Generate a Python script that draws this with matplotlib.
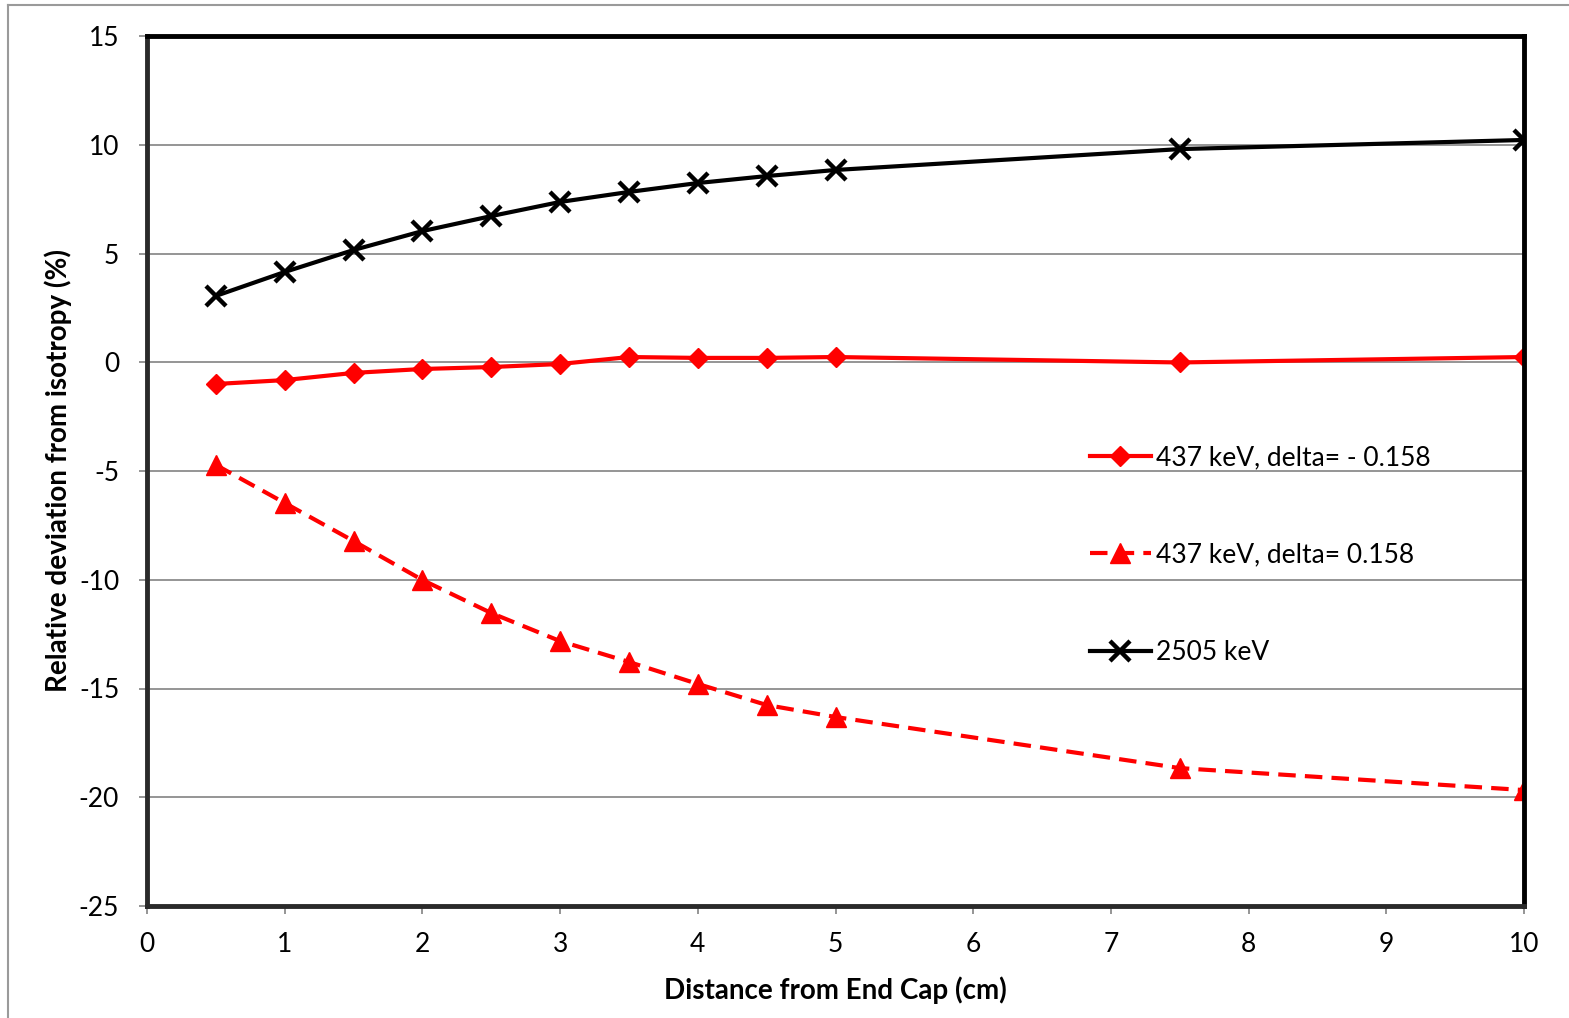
import matplotlib
matplotlib.use("Agg")
import matplotlib.pyplot as plt
from matplotlib.lines import Line2D

plt.rcParams["font.family"] = ["Lato", "DejaVu Sans"]
plt.rcParams["axes.unicode_minus"] = False

# distance from end cap (cm)
dist = [0.5, 1, 1.5, 2, 2.5, 3, 3.5, 4, 4.5, 5, 7.5, 10]
# relative deviation from isotropy (%)
dev_437_neg = [-1.0, -0.82, -0.49, -0.31, -0.22, -0.08, 0.24, 0.2, 0.2, 0.24, -0.01, 0.24]
dev_437_pos = [-4.72, -6.47, -8.22, -10.01, -11.53, -12.82, -13.78, -14.79, -15.76, -16.31, -18.66, -19.67]
dev_2505 = [3.05, 4.15, 5.16, 6.03, 6.72, 7.37, 7.83, 8.24, 8.56, 8.84, 9.8, 10.22]

labels = ["437 keV, delta= - 0.158", "437 keV, delta= 0.158", "2505 keV"]
x_ticks = list(range(0, 11))
y_ticks = list(range(-25, 20, 5))

W, H = 1569, 1018
fig = plt.figure(figsize=(W / 100, H / 100), dpi=100)
ax = fig.add_axes([147 / W, 1 - 906 / H, (1524 - 147) / W, (906 - 36) / H])

ax.plot(dist, dev_437_neg, color="red", lw=3, marker="D", ms=10, label=labels[0])
ax.plot(dist, dev_437_pos, color="red", lw=3, ls=(0, (4.2, 2.2)), marker="^", ms=14,
        label=labels[1])
ax.plot(dist, dev_2505, color="black", lw=3, marker="x", ms=14, mew=3.2, label=labels[2])

ax.set_xlim(0, 10)
ax.set_ylim(-25, 15)
ax.set_xticks(x_ticks)
ax.set_yticks(y_ticks)
ax.yaxis.grid(True, color="#8c8c8c", lw=1.3)
ax.set_axisbelow(True)
ax.tick_params(direction="out", length=6, width=1.3, color="#8c8c8c", labelsize=19)
ax.tick_params(axis="x", pad=13)
ax.tick_params(axis="y", pad=14)

for side in ["top", "right"]:
    ax.spines[side].set_color("black")
    ax.spines[side].set_linewidth(3.5)
for side in ["left", "bottom"]:
    ax.spines[side].set_color("#2a2a2a")
    ax.spines[side].set_linewidth(3.5)

ax.set_xlabel("Distance from End Cap (cm)", fontsize=20, fontweight="bold", labelpad=14)
ax.set_ylabel("Relative deviation from isotropy (%)", fontsize=20, fontweight="bold",
              labelpad=5)

leg = ax.legend(loc="center left", bbox_to_anchor=(1090 / W, 1 - 555 / H),
                bbox_transform=fig.transFigure, frameon=False, fontsize=19,
                borderpad=0, borderaxespad=0, handlelength=2.3, handletextpad=0.2,
                labelspacing=2.75, numpoints=1)

# outer chart frame (top and left edges)
fig.add_artist(Line2D([8 / W, 8 / W], [0, 1 - 5 / H], color="#9a9a9a", lw=1.5,
                      transform=fig.transFigure))
fig.add_artist(Line2D([8 / W, 1], [1 - 5 / H, 1 - 5 / H], color="#9a9a9a", lw=1.5,
                      transform=fig.transFigure))

fig.savefig("out.png", dpi=100)
